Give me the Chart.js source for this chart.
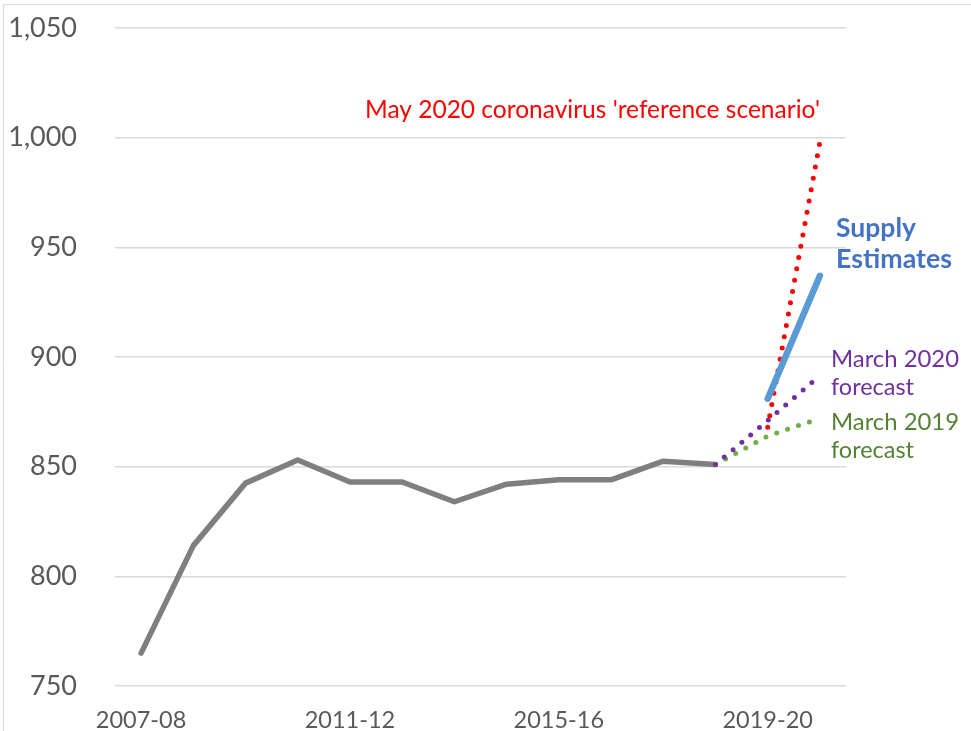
<!DOCTYPE html>
<html>
<head>
<meta charset="utf-8">
<script src="https://cdn.jsdelivr.net/npm/chart.js@4"></script>
<style>
  html, body { margin: 0; padding: 0; background: #fff; }
  #wrap { width: 971px; height: 731px; position: relative; }
</style>
</head>
<body>
<div id="wrap"><canvas id="chart"></canvas></div>
<script>
const years = ["2007-08", "2008-09", "2009-10", "2010-11", "2011-12", "2012-13", "2013-14",
  "2014-15", "2015-16", "2016-17", "2017-18", "2018-19", "2019-20", "2020-21"];
const outturn = [765, 814, 842.5, 853, 843, 843, 834, 842, 844, 844, 852.5, 851, null, null];
const march2019 = [null, null, null, null, null, null, null, null, null, null, null, 851, 864, 872];
const march2020 = [null, null, null, null, null, null, null, null, null, null, null, 851, 871, 891.5];
const may2020 = [null, null, null, null, null, null, null, null, null, null, null, null, 868, 998];
const supply = [null, null, null, null, null, null, null, null, null, null, null, null, 881, 937];
const yTicks = [750, 800, 850, 900, 950, 1000, 1050];

const FONT = "Lato, 'Open Sans', sans-serif";

// text labels next to the lines (left, baseline, target width)
const notes = [
  { text: "May 2020 coronavirus 'reference scenario'", color: "#ff0000", bold: false, x: 365, y: 118, w: 455 },
  { text: "Supply", color: "#4472c4", bold: true, x: 836, y: 237, w: 80 },
  { text: "Estimates", color: "#4472c4", bold: true, x: 836, y: 268, w: 116 },
  { text: "March 2020", color: "#7030a0", bold: false, x: 831, y: 367, w: 128 },
  { text: "forecast", color: "#7030a0", bold: false, x: 831, y: 395, w: 83 },
  { text: "March 2019", color: "#548235", bold: false, x: 831, y: 430, w: 128 },
  { text: "forecast", color: "#548235", bold: false, x: 831, y: 458, w: 83 }
];

const extras = {
  id: "extras",
  beforeDraw(chart) {
    const ctx = chart.ctx;
    ctx.save();
    ctx.fillStyle = "#fff";
    ctx.fillRect(0, 0, chart.width, chart.height);
    ctx.strokeStyle = "#d9d9d9";
    ctx.lineWidth = 1;
    ctx.beginPath();
    ctx.moveTo(3.5, chart.height);
    ctx.lineTo(3.5, 4.5);
    ctx.lineTo(chart.width, 4.5);
    ctx.stroke();
    ctx.restore();
  },
  afterDraw(chart) {
    const ctx = chart.ctx;
    ctx.save();
    ctx.textBaseline = "alphabetic";
    ctx.textAlign = "left";
    notes.forEach(n => {
      const weight = n.bold ? "bold " : "";
      ctx.font = weight + "20px " + FONT;
      const size = 20 * n.w / ctx.measureText(n.text).width;
      ctx.font = weight + size.toFixed(2) + "px " + FONT;
      ctx.fillStyle = n.color;
      ctx.fillText(n.text, n.x, n.y);
    });
    ctx.restore();
  }
};

const dotted = (label, data, color) => ({
  label: label,
  data: data,
  borderColor: color,
  borderWidth: 5,
  borderDash: [0, 11.5],
  borderCapStyle: "round",
  pointRadius: 0,
  spanGaps: false
});

new Chart(document.getElementById("chart"), {
  type: "line",
  data: {
    labels: years,
    datasets: [
      { label: "Supply Estimates", data: supply, borderColor: "#5b9bd5", borderWidth: 6.5,
        borderCapStyle: "round", pointRadius: 0 },
      dotted("May 2020 reference scenario", may2020, "#ff0000"),
      dotted("March 2020 forecast", march2020, "#7030a0"),
      dotted("March 2019 forecast", march2019, "#70ad47"),
      { label: "Outturn", data: outturn, borderColor: "#7f7f7f", borderWidth: 5.5,
        borderJoinStyle: "round", borderCapStyle: "round", pointRadius: 0 }
    ]
  },
  options: {
    responsive: true,
    maintainAspectRatio: false,
    animation: false,
    layout: { padding: { top: 28, right: 125, left: 0, bottom: 0 } },
    plugins: {
      legend: { display: false },
      tooltip: { enabled: false }
    },
    scales: {
      x: {
        type: "category",
        offset: true,
        grid: { display: false },
        border: { display: false },
        afterFit: s => { s.height = 45; s.paddingLeft = 0; s.paddingRight = 0; },
        ticks: {
          autoSkip: false,
          maxRotation: 0,
          padding: 12,
          color: "#595959",
          font: { family: FONT, size: 23.5 },
          callback: (v, i) => (i % 4 === 0 ? years[i] : "")
        }
      },
      y: {
        min: 750,
        max: 1050,
        afterBuildTicks: s => { s.ticks = yTicks.map(v => ({ value: v })); },
        afterFit: s => { s.width = 115; s.paddingTop = 0; s.paddingBottom = 0; },
        grid: { color: "#d9d9d9", lineWidth: 1.5, drawTicks: false },
        border: { display: false },
        ticks: {
          padding: 38,
          color: "#595959",
          font: { family: FONT, size: 27 },
          callback: v => v.toLocaleString("en-US")
        }
      }
    }
  },
  plugins: [extras]
});
</script>
</body>
</html>
